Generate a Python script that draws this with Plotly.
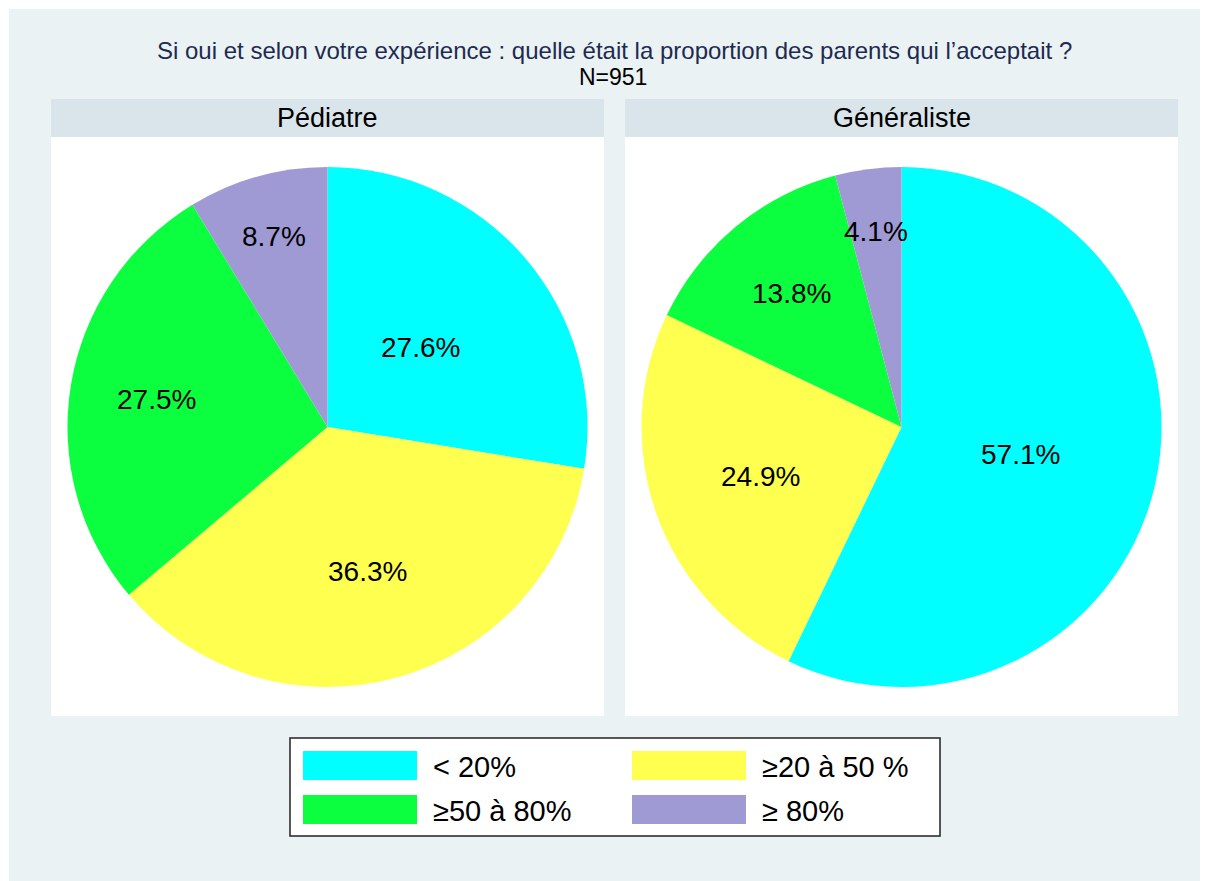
import math
import plotly.graph_objects as go

# Page body adds an 8px margin; work in screen coordinates and convert.
OFF = 8
W, H = 1208 - OFF, 881 - OFF

categories = ["< 20%", "≥20 à 50 %", "≥50 à 80%", "≥ 80%"]
colors = ["#00FFFF", "#FFFF4F", "#0CFF3F", "#9F9AD4"]
groups = ["Pédiatre", "Généraliste"]
pediatre_vals = [27.6, 36.3, 27.5, 8.7]
generaliste_vals = [57.1, 24.9, 13.8, 4.1]
title_line1 = "Si oui et selon votre expérience : quelle était la proportion des parents qui l’acceptait ?"
title_line2 = "N=951"

# label radius (fraction of pie radius) per category, as placed in the original
label_r = [0.47, 0.575, 0.665, 0.76]

BG = "#EAF2F3"
HEAD = "#D9E5EA"
FONT = "Liberation Sans, Arial, Helvetica, sans-serif"


def px_x(x):
    return (x - OFF) / W


def px_y(y):
    return 1 - (y - OFF) / H


fig = go.Figure()

panels = [(51, 604), (625, 1178)]
R = 260
cy = 427
annotations = []
for (x0, x1), name, vals in zip(panels, groups, [pediatre_vals, generaliste_vals]):
    cx = (x0 + x1) / 2
    fig.add_trace(go.Pie(
        labels=categories, values=vals, sort=False, direction="clockwise", rotation=0,
        marker=dict(colors=colors, line=dict(width=0)),
        textinfo="none",
        domain=dict(x=[px_x(cx - R), px_x(cx + R)], y=[px_y(cy + R), px_y(cy - R)]),
        showlegend=False, hoverinfo="label+percent",
    ))
    total = sum(vals)
    cum = 0.0
    for v, fr in zip(vals, label_r):
        mid = (cum + v / 2) / total * 2 * math.pi
        cum += v
        lx = cx + fr * R * math.sin(mid)
        ly = cy - fr * R * math.cos(mid)
        annotations.append(dict(text=f"{v:.1f}%", x=px_x(lx), y=px_y(ly), xref="paper", yref="paper",
                                showarrow=False, xanchor="center", yanchor="middle",
                                font=dict(family=FONT, size=28, color="black")))

shapes = []
shapes.append(dict(type="rect", xref="paper", yref="paper", x0=px_x(9), x1=1, y0=0, y1=px_y(9),
                   fillcolor=BG, line=dict(width=0), layer="below"))
for (x0, x1), name in zip(panels, groups):
    shapes.append(dict(type="rect", xref="paper", yref="paper", x0=px_x(x0), x1=px_x(x1),
                       y0=px_y(137), y1=px_y(99), fillcolor=HEAD, line=dict(width=0), layer="below"))
    shapes.append(dict(type="rect", xref="paper", yref="paper", x0=px_x(x0), x1=px_x(x1),
                       y0=px_y(716), y1=px_y(137), fillcolor="white", line=dict(width=0), layer="below"))
    annotations.append(dict(text=name, x=px_x((x0 + x1) / 2), y=px_y(118), xref="paper", yref="paper",
                            showarrow=False, xanchor="center", yanchor="middle",
                            font=dict(family=FONT, size=27, color="black")))

annotations.append(dict(text=title_line1, x=px_x(614), y=px_y(50), xref="paper", yref="paper",
                        showarrow=False, xanchor="center", yanchor="middle",
                        font=dict(family=FONT, size=24, color="#1E2A50")))
annotations.append(dict(text=title_line2, x=px_x(613), y=px_y(77), xref="paper", yref="paper",
                        showarrow=False, xanchor="center", yanchor="middle",
                        font=dict(family=FONT, size=23, color="black")))

# legend box
shapes.append(dict(type="rect", xref="paper", yref="paper", x0=px_x(290), x1=px_x(940),
                   y0=px_y(836), y1=px_y(738), fillcolor="white", line=dict(color="#222222", width=1.5)))
leg_pos = [(303, 751), (632, 751), (303, 795), (632, 795)]
for cat, col, (lx, ly) in zip(categories, colors, leg_pos):
    shapes.append(dict(type="rect", xref="paper", yref="paper", x0=px_x(lx), x1=px_x(lx + 114),
                       y0=px_y(ly + 29), y1=px_y(ly), fillcolor=col, line=dict(width=0)))
    annotations.append(dict(text=cat, x=px_x(lx + 128), y=px_y(ly + 16), xref="paper", yref="paper",
                            showarrow=False, xanchor="left", yanchor="middle",
                            font=dict(family=FONT, size=29, color="black")))

fig.update_layout(
    width=W, height=H, margin=dict(l=0, r=0, t=0, b=0),
    paper_bgcolor="white", plot_bgcolor="white",
    shapes=shapes, annotations=annotations,
)

fig.write_html("out.html")
